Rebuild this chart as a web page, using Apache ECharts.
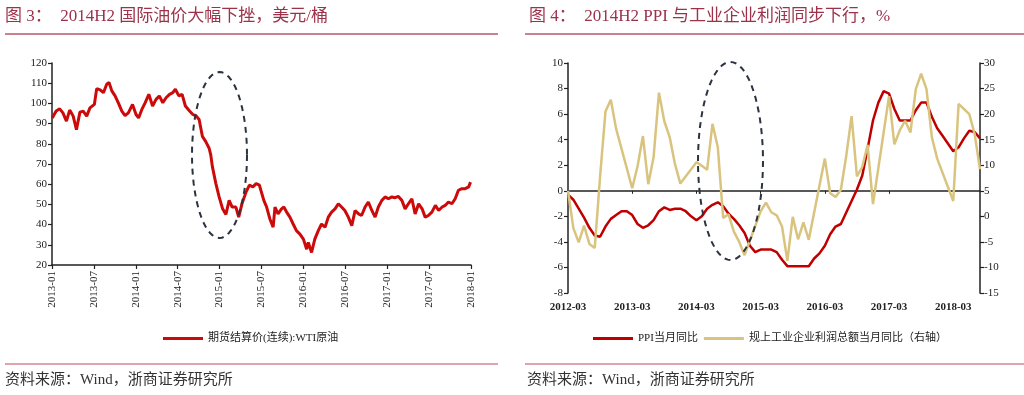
<!DOCTYPE html>
<html>
<head>
<meta charset="utf-8">
<script src="https://cdn.jsdelivr.net/npm/echarts@6/dist/echarts.min.js"></script>
<style>
html,body{margin:0;padding:0;background:#fff;}
#chart{width:1024px;height:395px;}
</style>
</head>
<body>
<div id="chart"></div>
<script>
// ---------- Left chart: WTI futures settlement price (USD/bbl) ----------
const wtiDates = [
 '2013-01-02','2013-01-19','2013-02-04','2013-02-18','2013-03-03','2013-03-17','2013-04-02','2013-04-16',
 '2013-05-01','2013-05-15','2013-05-30','2013-06-14','2013-07-03','2013-07-13','2013-07-28','2013-08-12',
 '2013-08-26','2013-09-06','2013-09-18','2013-10-02','2013-10-16','2013-11-01','2013-11-15','2013-11-29',
 '2013-12-17','2014-01-02','2014-01-13','2014-01-27','2014-02-11','2014-02-27','2014-03-13','2014-03-28',
 '2014-04-12','2014-04-27','2014-05-11','2014-05-26','2014-06-10','2014-06-21','2014-07-06','2014-07-20',
 '2014-08-04','2014-08-22','2014-09-06','2014-09-21','2014-10-03','2014-10-17','2014-11-01','2014-11-16',
 '2014-11-23','2014-11-30','2014-12-15','2014-12-29','2015-01-14','2015-01-28','2015-02-12','2015-02-25',
 '2015-03-11','2015-03-23','2015-04-07','2015-04-25','2015-05-09','2015-05-24','2015-06-08','2015-06-22',
 '2015-07-11','2015-07-23','2015-08-07','2015-08-21','2015-08-29','2015-09-12','2015-09-27','2015-10-07',
 '2015-10-19','2015-11-03','2015-11-17','2015-12-01','2015-12-16','2015-12-31','2016-01-15','2016-01-22',
 '2016-02-06','2016-02-20','2016-03-05','2016-03-19','2016-04-04','2016-04-18','2016-05-02','2016-05-17',
 '2016-06-01','2016-06-15','2016-06-29','2016-07-14','2016-07-29','2016-08-13','2016-08-28','2016-09-11',
 '2016-09-26','2016-10-10','2016-10-25','2016-11-09','2016-11-23','2016-12-08','2016-12-22','2017-01-06',
 '2017-01-21','2017-02-05','2017-02-18','2017-03-04','2017-03-18','2017-04-02','2017-04-17','2017-05-01',
 '2017-05-16','2017-05-31','2017-06-14','2017-06-28','2017-07-13','2017-07-28','2017-08-12','2017-08-27',
 '2017-09-10','2017-09-24','2017-10-09','2017-10-23','2017-11-07','2017-11-22','2017-12-06','2017-12-21',
 '2017-12-29'
];
const wtiValues = [
 92.8,96.2,97.3,95.3,91.2,96.7,93.7,87.0,
 95.7,96.2,93.7,97.8,99.5,107.3,106.7,105.3,
 109.5,110.3,106.2,103.7,100.3,96.2,94.0,95.3,
 99.5,94.5,92.8,97.0,100.3,104.5,98.7,102.0,
 103.7,100.3,102.8,104.5,105.3,107.0,103.7,104.5,
 98.7,96.2,94.5,93.7,92.0,83.7,81.2,77.8,
 74.5,68.7,60.3,53.7,47.8,45.0,52.0,48.7,
 48.7,43.7,50.3,56.2,59.5,58.7,60.3,59.5,
 52.0,48.7,42.8,38.7,48.7,45.3,47.8,48.7,
 46.2,43.7,40.3,37.0,35.3,32.8,27.8,31.2,
 26.2,32.8,37.0,40.3,38.7,43.7,46.2,47.8,
 50.3,48.7,47.0,43.7,39.5,47.0,45.3,44.5,
 48.7,51.2,47.0,43.7,48.7,52.0,53.7,52.8,
 53.7,53.3,54.0,52.0,47.8,50.3,52.8,45.3,
 50.3,47.8,43.7,44.5,46.2,49.5,47.0,48.7,
 49.5,51.2,50.3,52.8,57.0,57.8,57.8,58.7,
 61.0
];
const wtiTickLabels = ['2013-01','2013-07','2014-01','2014-07','2015-01','2015-07','2016-01','2016-07','2017-01','2017-07','2018-01'];
const wtiName = '期货结算价(连续):WTI原油';

// ---------- Right chart: PPI yoy vs industrial profit yoy ----------
const months = [
 '2012-03','2012-04','2012-05','2012-06','2012-07','2012-08','2012-09','2012-10','2012-11','2012-12',
 '2013-01','2013-02','2013-03','2013-04','2013-05','2013-06','2013-07','2013-08','2013-09','2013-10','2013-11','2013-12',
 '2014-01','2014-02','2014-03','2014-04','2014-05','2014-06','2014-07','2014-08','2014-09','2014-10','2014-11','2014-12',
 '2015-01','2015-02','2015-03','2015-04','2015-05','2015-06','2015-07','2015-08','2015-09','2015-10','2015-11','2015-12',
 '2016-01','2016-02','2016-03','2016-04','2016-05','2016-06','2016-07','2016-08','2016-09','2016-10','2016-11','2016-12',
 '2017-01','2017-02','2017-03','2017-04','2017-05','2017-06','2017-07','2017-08','2017-09','2017-10','2017-11','2017-12',
 '2018-01','2018-02','2018-03','2018-04','2018-05','2018-06','2018-07','2018-08'
];
const ppiValues = [
 -0.3,-0.7,-1.4,-2.1,-2.9,-3.5,-3.6,-2.8,-2.2,-1.9,
 -1.6,-1.6,-1.9,-2.6,-2.9,-2.7,-2.3,-1.6,-1.3,-1.5,-1.4,-1.4,
 -1.6,-2.0,-2.3,-2.0,-1.4,-1.1,-0.9,-1.2,-1.8,-2.2,-2.7,-3.3,
 -4.3,-4.8,-4.6,-4.6,-4.6,-4.8,-5.4,-5.9,-5.9,-5.9,-5.9,-5.9,
 -5.3,-4.9,-4.3,-3.4,-2.8,-2.6,-1.7,-0.8,0.1,1.2,3.3,5.5,
 6.9,7.8,7.6,6.4,5.5,5.5,5.5,6.3,6.9,6.9,5.8,4.9,
 4.3,3.7,3.1,3.4,4.1,4.7,4.6,4.1
];
const profitValues = [
 5.0,-2.3,-5.1,-1.8,-5.4,-6.2,7.8,20.5,22.8,17.1,
 null,null,5.5,9.8,15.7,6.3,11.6,24.2,18.6,15.5,10.2,6.4,
 null,null,10.6,9.9,9.1,18.1,13.5,-0.3,0.4,-3.0,-5.0,-7.6,
 null,null,1.0,2.7,0.8,0.2,-2.0,-8.7,-0.1,-4.5,-1.2,-4.6,
 null,null,11.3,4.5,3.8,5.2,11.8,19.6,7.8,9.7,14.0,2.4,
 null,null,23.5,14.1,16.8,18.7,16.4,24.9,27.9,24.9,15.5,11.3,
 null,null,3.0,22.0,21.0,20.0,16.1,9.2
];
const ppiName = 'PPI当月同比';
const profitName = '规上工业企业利润总额当月同比（右轴）';
const rightXTicks = ['2012-03','2013-03','2014-03','2015-03','2016-03','2017-03','2018-03'];

// ---------- helpers ----------
function monthIndex(s) {
  const p = s.split('-').map(Number);
  return (p[0] - 2013) * 12 + (p[1] - 1) + (p[2] - 1) / 30;
}
function ellipsePoints(cx, cy, rx, ry) {
  const pts = [];
  for (let i = 0; i < 72; i++) {
    const a = i / 72 * Math.PI * 2;
    pts.push([cx + rx * Math.cos(a), cy + ry * Math.sin(a)]);
  }
  return pts;
}

const SERIF = "'Liberation Serif','Noto Sans CJK SC'";
const TITLE_COLOR = '#9c3249';
const AX = '#222';

const chart = echarts.init(document.getElementById('chart'), null, {renderer: 'canvas'});
chart.setOption({
  animation: false,
  backgroundColor: '#fff',
  grid: [
    {left: 52, top: 63, width: 419, height: 202},
    {left: 568, top: 63, width: 412, height: 230}
  ],
  xAxis: [
    {
      type: 'value', gridIndex: 0, min: 0, max: 60, interval: 6,
      axisLine: {lineStyle: {color: AX, width: 1.5}},
      axisTick: {length: 4, lineStyle: {color: AX, width: 1.2}},
      splitLine: {show: false},
      axisLabel: {
        rotate: 90, margin: 6, color: '#222', fontSize: 11, fontFamily: SERIF,
        formatter: v => wtiTickLabels[Math.round(v / 6)] || ''
      }
    },
    {
      type: 'category', gridIndex: 1, data: months, boundaryGap: false, position: 'bottom',
      axisLine: {show: false, onZero: false},
      axisTick: {show: false},
      splitLine: {show: false},
      axisLabel: {
        interval: 11, margin: 9, color: '#222', fontSize: 11, fontWeight: 'bold', fontFamily: SERIF,
        formatter: v => (rightXTicks.indexOf(v) >= 0 ? v : '')
      }
    },
    {
      type: 'category', gridIndex: 1, data: months, boundaryGap: false, position: 'bottom',
      axisLine: {show: true, onZero: true, onZeroAxisIndex: 1, lineStyle: {color: AX, width: 1.5}},
      axisTick: {show: true, interval: 11, length: 3, lineStyle: {color: AX, width: 1}},
      axisLabel: {show: false},
      splitLine: {show: false}
    }
  ],
  yAxis: [
    {
      type: 'value', gridIndex: 0, min: 20, max: 120, interval: 10,
      axisLine: {show: true, lineStyle: {color: AX, width: 1.5}},
      axisTick: {show: true, length: 4, lineStyle: {color: AX, width: 1.2}},
      splitLine: {show: false},
      axisLabel: {margin: 5, color: '#222', fontSize: 11, fontFamily: SERIF}
    },
    {
      type: 'value', gridIndex: 1, min: -8, max: 10, interval: 2, position: 'left',
      axisLine: {show: true, onZero: false, lineStyle: {color: AX, width: 1.5}},
      axisTick: {show: true, length: 4, lineStyle: {color: AX, width: 1.2}},
      splitLine: {show: false},
      axisLabel: {margin: 5, color: '#222', fontSize: 11, fontFamily: SERIF}
    },
    {
      type: 'value', gridIndex: 1, min: -15, max: 30, interval: 5, position: 'right',
      axisLine: {show: true, onZero: false, lineStyle: {color: AX, width: 1.5}},
      axisTick: {show: true, length: 4, lineStyle: {color: AX, width: 1.2}},
      splitLine: {show: false},
      axisLabel: {margin: 4, color: '#222', fontSize: 11, fontFamily: SERIF}
    }
  ],
  legend: [
    {
      left: 163, top: 333, padding: 0, itemWidth: 40, itemHeight: 3, icon: 'rect', itemGap: 8,
      data: [wtiName],
      textStyle: {fontSize: 11, color: '#222', fontFamily: SERIF}
    },
    {
      left: 593, top: 333, padding: 0, itemWidth: 40, itemHeight: 3, icon: 'rect', itemGap: 6,
      data: [ppiName, profitName],
      textStyle: {fontSize: 11, color: '#222', fontFamily: SERIF}
    }
  ],
  series: [
    {
      name: wtiName, type: 'line', xAxisIndex: 0, yAxisIndex: 0,
      data: wtiDates.map((d, i) => [monthIndex(d), wtiValues[i]]),
      symbol: 'none', color: '#cc0a0a',
      lineStyle: {color: '#cc0a0a', width: 3}
    },
    {
      name: ppiName, type: 'line', xAxisIndex: 1, yAxisIndex: 1,
      data: ppiValues, symbol: 'none', color: '#c00000',
      lineStyle: {color: '#c00000', width: 2.5}
    },
    {
      name: profitName, type: 'line', xAxisIndex: 1, yAxisIndex: 2,
      data: profitValues, connectNulls: true, symbol: 'none', color: '#d9c47f',
      lineStyle: {color: '#d9c47f', width: 2.5}
    }
  ],
  graphic: [
    {type: 'text', left: 5, top: 8, style: {text: '图 3：  2014H2 国际油价大幅下挫，美元/桶', fill: TITLE_COLOR, font: "17px " + SERIF}},
    {type: 'text', left: 529, top: 8, style: {text: '图 4：  2014H2 PPI 与工业企业利润同步下行，%', fill: TITLE_COLOR, font: "17px " + SERIF}},
    {type: 'line', shape: {x1: 5, y1: 34, x2: 498, y2: 34}, style: {stroke: '#c8828e', lineWidth: 2}},
    {type: 'line', shape: {x1: 525, y1: 34, x2: 1024, y2: 34}, style: {stroke: '#c8828e', lineWidth: 2}},
    {type: 'line', shape: {x1: 5, y1: 364, x2: 498, y2: 364}, style: {stroke: '#c2485a', lineWidth: 1}},
    {type: 'line', shape: {x1: 525, y1: 364, x2: 1024, y2: 364}, style: {stroke: '#c2485a', lineWidth: 1}},
    {type: 'text', left: 5, top: 373, style: {text: '资料来源：Wind，浙商证券研究所', fill: '#333', font: "15px " + SERIF}},
    {type: 'text', left: 527, top: 373, style: {text: '资料来源：Wind，浙商证券研究所', fill: '#333', font: "15px " + SERIF}},
    {type: 'polygon', shape: {points: ellipsePoints(219.5, 155, 27.5, 83)}, style: {fill: 'none', stroke: '#2b3340', lineWidth: 2, lineDash: [6, 5]}, z: 10},
    {type: 'polygon', shape: {points: ellipsePoints(730.5, 161, 32.5, 99)}, style: {fill: 'none', stroke: '#2b3340', lineWidth: 2, lineDash: [6, 5]}, z: 10}
  ]
});
</script>
</body>
</html>
